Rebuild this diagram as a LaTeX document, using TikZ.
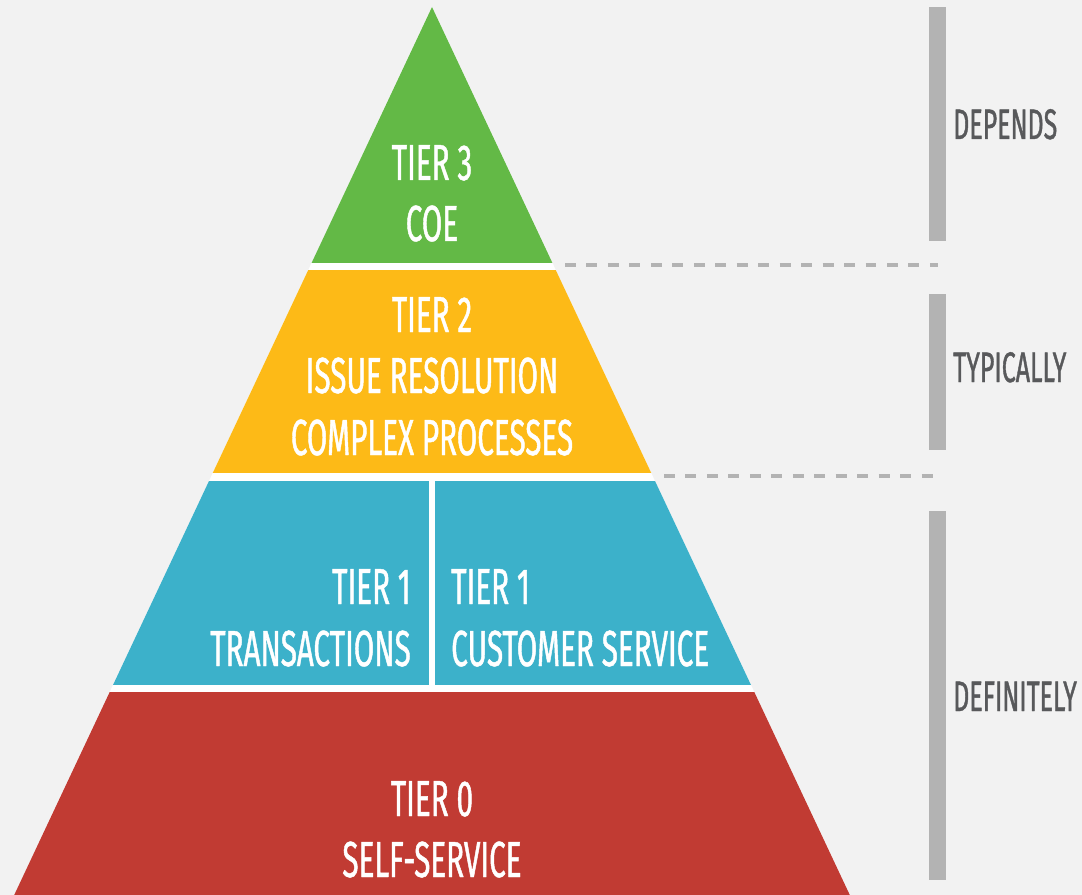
\documentclass[tikz,border=0pt]{standalone}
\usepackage{fontspec}
\setmainfont[FakeStretch=0.585,FakeBold=0.9]{Fira Sans}
\definecolor{bgc}{HTML}{F2F2F2}
\definecolor{tgreen}{HTML}{63B946}
\definecolor{tyellow}{HTML}{FDBA17}
\definecolor{tcyan}{HTML}{3CB1CA}
\definecolor{tred}{HTML}{C13B33}
\definecolor{barc}{HTML}{B3B3B3}
\definecolor{labc}{HTML}{58595B}
\begin{document}
\begin{tikzpicture}[x=0.75pt,y=-0.75pt,
  tiertext/.style={text=white,font=\fontsize{38pt}{40pt}\selectfont,inner sep=0pt,anchor=base},
  sidelabel/.style={text=labc,font=\fontsize{32pt}{34pt}\selectfont,inner sep=0pt,anchor=base west},
  sidebar/.style={fill=barc},
  sepline/.style={draw=barc,line width=3pt,dash pattern=on 8.2pt off 7.9pt}]
\fill[bgc] (0,0) rectangle (1082,895);
\useasboundingbox (0,0) rectangle (1082,895);
% pyramid
\begin{scope}
\clip (432,7) -- (432-0.4705*900,907) -- (432+0.4705*900,907) -- cycle;
\fill[white] (0,0) rectangle (1082,900);
\fill[tgreen] (0,0) rectangle (1082,263);
\fill[tyellow] (0,270) rectangle (1082,473);
\fill[tcyan] (0,481) rectangle (429,685);
\fill[tcyan] (435,481) rectangle (1082,685);
\fill[tred] (0,692) rectangle (1082,900);
\end{scope}
% texts in pyramid
\node[tiertext] (t3a) at (432,180) {TIER 3};
\node[tiertext] (t3b) at (432,241) {COE};
\node[tiertext] (t2a) at (432,332) {TIER 2};
\node[tiertext] (t2b) at (432,393) {ISSUE RESOLUTION};
\node[tiertext] (t2c) at (432,455) {COMPLEX PROCESSES};
\node[tiertext,anchor=base east] (t1la) at (411,604) {TIER 1};
\node[tiertext,anchor=base east] (t1lb) at (411,666) {TRANSACTIONS};
\node[tiertext,anchor=base west] (t1ra) at (451,604) {TIER 1};
\node[tiertext,anchor=base west] (t1rb) at (451,666) {CUSTOMER SERVICE};
\node[tiertext] (t0a) at (432,816) {TIER 0};
\node[tiertext] (t0b) at (432,877) {SELF-SERVICE};
% separators
\coordinate (s1a) at (565,265); \coordinate (s1b) at (938,265);
\coordinate (s2a) at (664,476); \coordinate (s2b) at (938,476);
\draw[sepline] (s1a) -- (s1b);
\draw[sepline] (s2a) -- (s2b);
% side bars
\fill[sidebar] (929,7) rectangle (946,241);
\fill[sidebar] (929,294) rectangle (946,450);
\fill[sidebar] (929,511) rectangle (946,880);
% side labels
\node[sidelabel] (ldep) at (953,139) {DEPENDS};
\node[sidelabel] (ltyp) at (953,382) {TYPICALLY};
\node[sidelabel] (ldef) at (953,711) {DEFINITELY};
\end{tikzpicture}
\end{document}
